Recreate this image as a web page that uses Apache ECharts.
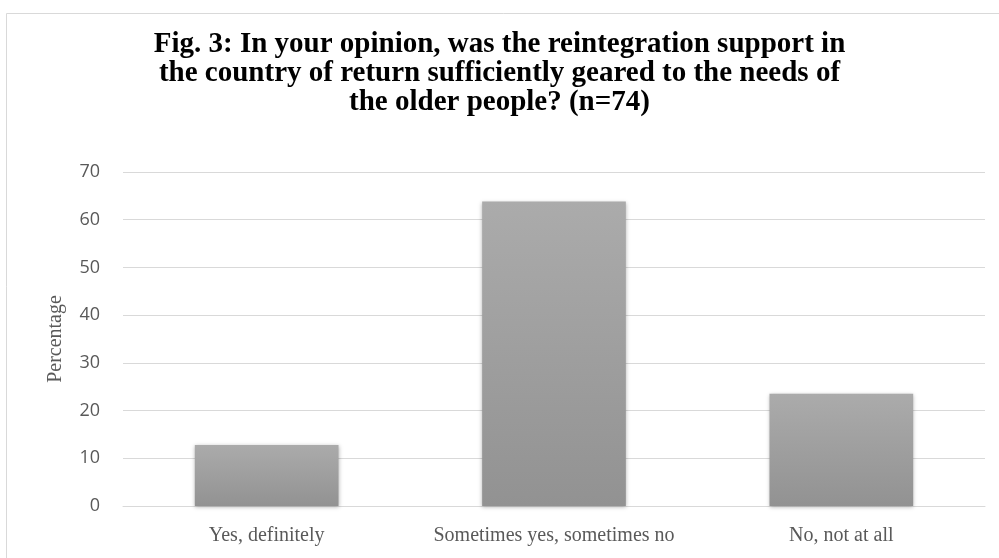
<!DOCTYPE html>
<html><head><meta charset="utf-8">
<script src="https://cdn.jsdelivr.net/npm/echarts@6/dist/echarts.min.js"></script>
<style>html,body{margin:0;padding:0;background:#fff}#c{width:999px;height:558px}</style>
</head><body><div id="c"></div>
<script>
const categories = ['Yes, definitely', 'Sometimes yes, sometimes no', 'No, not at all'];
const values = [12.8, 63.8, 23.5];
const yTicks = [0, 10, 20, 30, 40, 50, 60, 70];
const titleText = 'Fig. 3: In your opinion, was the reintegration support in\nthe country of return sufficiently geared to the needs of\nthe older people? (n=74)';

const chart = echarts.init(document.getElementById('c'), null, {renderer: 'canvas'});
chart.setOption({
  animation: false,
  backgroundColor: '#fff',
  graphic: [{
    type: 'rect', left: 4, top: 11, z: -1,
    shape: {width: 1000, height: 560},
    style: {fill: 'none', stroke: '#d9d9d9', lineWidth: 1}
  }],
  title: {
    text: titleText, left: 'center', top: 25,
    textStyle: {fontFamily: 'Liberation Serif', fontWeight: 'bold', fontSize: 29, lineHeight: 29, color: '#000'}
  },
  grid: {left: 123, right: 14, top: 172, bottom: 52},
  xAxis: {
    type: 'category', data: categories,
    axisTick: {show: false},
    axisLine: {lineStyle: {color: '#d9d9d9', width: 1}},
    axisLabel: {interval: 0, fontFamily: 'Liberation Serif', fontSize: 20, color: '#595959', margin: 20}
  },
  yAxis: {
    type: 'value', min: yTicks[0], max: yTicks[yTicks.length - 1], interval: 10,
    name: 'Percentage', nameLocation: 'middle', nameGap: 57, nameMoveOverlap: false,
    nameTextStyle: {fontFamily: 'Liberation Serif', fontSize: 20, color: '#595959'},
    axisLine: {show: false}, axisTick: {show: false},
    axisLabel: {fontFamily: 'Open Sans', fontSize: 18, color: '#595959', margin: 23},
    splitLine: {lineStyle: {color: '#d9d9d9', width: 1}}
  },
  series: [{
    type: 'bar', data: values, barWidth: '50%',
    itemStyle: {
      color: new echarts.graphic.LinearGradient(0, 0, 0, 1, [
        {offset: 0, color: '#ababab'}, {offset: 1, color: '#929292'}
      ]),
      shadowColor: 'rgba(0,0,0,0.3)', shadowBlur: 4, shadowOffsetX: 0, shadowOffsetY: 1
    }
  }]
});
</script></body></html>
